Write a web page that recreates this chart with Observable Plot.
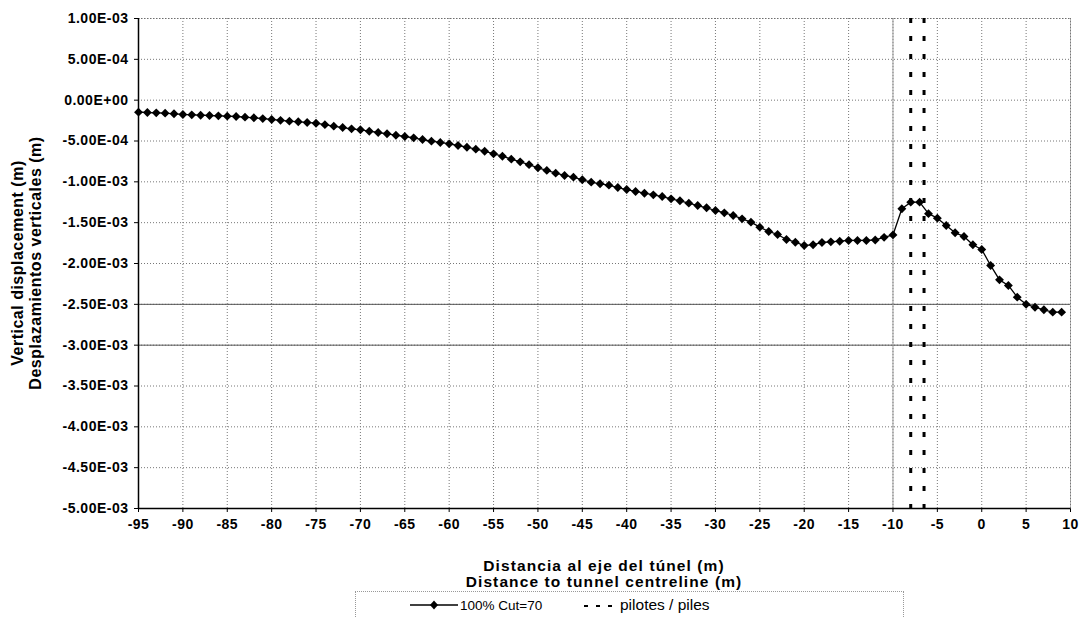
<!DOCTYPE html>
<html><head><meta charset="utf-8">
<script src="https://cdn.jsdelivr.net/npm/d3@7"></script>
<script src="https://cdn.jsdelivr.net/npm/@observablehq/plot@0.6"></script>
<style>
body{margin:0;background:#fff;font-family:"Liberation Sans",Arial,sans-serif;color:#000;}
#wrap{position:relative;width:1080px;height:617px;overflow:hidden;background:#fff;}
#chart{position:absolute;left:0;top:0;}
.ytitle{position:absolute;left:27px;top:263px;transform:translate(-50%,-50%) rotate(-90deg);font-weight:bold;font-size:16px;letter-spacing:0.5px;line-height:18px;text-align:center;white-space:nowrap;}
.xtitle{position:absolute;left:604px;top:558px;transform:translateX(-50%);font-weight:bold;font-size:15.5px;letter-spacing:1.1px;line-height:16px;text-align:center;white-space:nowrap;}
.legend{position:absolute;left:355px;top:591px;width:549px;height:40px;border:1px dotted #999;box-sizing:border-box;font-size:13px;}
.legend .it{position:absolute;top:4px;display:flex;align-items:center;height:18px;white-space:nowrap;}
</style>
</head><body>
<div id="wrap">
  <div id="chart"></div>
  <div class="ytitle">Vertical displacement (m)<br>Desplazamientos verticales (m)</div>
  <div class="xtitle">Distancia al eje del túnel (m)<br>Distance to tunnel centreline (m)</div>
  <div class="legend">
    <div class="it" style="left:54px"><svg width="48" height="12"><line x1="0" y1="6" x2="48" y2="6" stroke="#000" stroke-width="1.3"/><path d="M24,1.5 L28,6 L24,10.5 L20,6Z" fill="#000"/></svg><span style="margin-left:2px;font-size:13.5px">100% Cut=70</span></div>
    <div class="it" style="left:226px"><svg width="34" height="12"><line x1="2" y1="7" x2="34" y2="7" stroke="#000" stroke-width="2" stroke-dasharray="4,8"/></svg><span style="margin-left:4px;font-size:15.5px">pilotes / piles</span></div>
  </div>
</div>
<script>
// Distance to tunnel centreline (m)
const distance = [-95,-94,-93,-92,-91,-90,-89,-88,-87,-86,-85,-84,-83,-82,-81,-80,-79,-78,-77,-76,
  -75,-74,-73,-72,-71,-70,-69,-68,-67,-66,-65,-64,-63,-62,-61,-60,-59,-58,-57,-56,
  -55,-54,-53,-52,-51,-50,-49,-48,-47,-46,-45,-44,-43,-42,-41,-40,-39,-38,-37,-36,
  -35,-34,-33,-32,-31,-30,-29,-28,-27,-26,-25,-24,-23,-22,-21,-20,-19,-18,-17,-16,
  -15,-14,-13,-12,-11,-10,-9,-8,-7,-6,-5,-4,-3,-2,-1,0,1,2,3,4,5,6,7,8,9];
// Vertical displacement (m), series "100% Cut=70"
const displacement = [
  -1.47e-4,-1.51e-4,-1.55e-4,-1.59e-4,-1.67e-4,-1.75e-4,-1.80e-4,-1.84e-4,-1.88e-4,-1.92e-4,
  -1.96e-4,-2.00e-4,-2.08e-4,-2.16e-4,-2.26e-4,-2.36e-4,-2.47e-4,-2.57e-4,-2.65e-4,-2.73e-4,
  -2.82e-4,-3.00e-4,-3.18e-4,-3.35e-4,-3.51e-4,-3.63e-4,-3.80e-4,-3.96e-4,-4.12e-4,-4.29e-4,
  -4.45e-4,-4.61e-4,-4.82e-4,-5.02e-4,-5.18e-4,-5.35e-4,-5.55e-4,-5.76e-4,-6.00e-4,-6.25e-4,
  -6.57e-4,-6.86e-4,-7.22e-4,-7.55e-4,-7.90e-4,-8.28e-4,-8.60e-4,-8.94e-4,-9.22e-4,-9.43e-4,
  -9.75e-4,-1.004e-3,-1.024e-3,-1.041e-3,-1.070e-3,-1.094e-3,-1.118e-3,-1.139e-3,-1.159e-3,-1.180e-3,
  -1.208e-3,-1.232e-3,-1.261e-3,-1.290e-3,-1.318e-3,-1.351e-3,-1.380e-3,-1.412e-3,-1.453e-3,-1.494e-3,
  -1.555e-3,-1.608e-3,-1.645e-3,-1.706e-3,-1.739e-3,-1.780e-3,-1.770e-3,-1.743e-3,-1.735e-3,-1.727e-3,
  -1.718e-3,-1.718e-3,-1.718e-3,-1.712e-3,-1.680e-3,-1.650e-3,-1.330e-3,-1.249e-3,-1.249e-3,-1.390e-3,
  -1.445e-3,-1.535e-3,-1.624e-3,-1.669e-3,-1.771e-3,-1.828e-3,-2.024e-3,-2.200e-3,-2.269e-3,-2.412e-3,
  -2.500e-3,-2.535e-3,-2.567e-3,-2.596e-3,-2.596e-3];
// Pile positions (m), series "pilotes / piles"
const piles = [-8, -6.5];
// Axis ticks
const xTicks = [-95,-90,-85,-80,-75,-70,-65,-60,-55,-50,-45,-40,-35,-30,-25,-20,-15,-10,-5,0,5,10];
const yTicks = [1e-3,5e-4,0,-5e-4,-1e-3,-1.5e-3,-2e-3,-2.5e-3,-3e-3,-3.5e-3,-4e-3,-4.5e-3,-5e-3];
// Darker grid lines seen in the scanned original
const darkYGrid = [-2.5e-3, -3e-3];
const darkXGrid = [-10];

const data = distance.map((d, i) => ({x: d, y: displacement[i]}));
const fmtE = v => {
  const s = (Math.abs(v) < 1e-12 ? 0 : v).toExponential(2);
  const [m, e] = s.split("e");
  const n = parseInt(e, 10);
  return m + "E" + (n < 0 ? "-" : "+") + String(Math.abs(n)).padStart(2, "0");
};

const chart = Plot.plot({
  width: 1080,
  height: 540,
  marginTop: 18,
  marginBottom: 32,
  marginLeft: 138,
  marginRight: 10,
  style: {fontFamily: "'Liberation Sans', Arial, sans-serif", fontSize: "14px", fontWeight: "bold", letterSpacing: "0.5px", color: "#000", background: "#fff"},
  x: {domain: [-95, 10], ticks: xTicks, tickFormat: d => String(d), tickSize: 4, tickPadding: 7, label: null},
  y: {domain: [-5e-3, 1e-3], ticks: yTicks, tickFormat: fmtE, tickSize: 4, tickPadding: 6, label: null},
  marks: [
    Plot.ruleX(xTicks, {stroke: "#777", strokeWidth: 1, strokeDasharray: "1,2"}),
    Plot.ruleY(yTicks, {stroke: "#777", strokeWidth: 1, strokeDasharray: "1,2"}),
    Plot.ruleY(darkYGrid, {stroke: "#555", strokeWidth: 1}),
    Plot.ruleX(darkXGrid, {stroke: "#999", strokeWidth: 1}),
    Plot.frame({stroke: "#666", strokeDasharray: "1,2"}),
    Plot.ruleX([-95], {stroke: "#000", strokeWidth: 1.5}),
    Plot.ruleY([-5e-3], {stroke: "#000", strokeWidth: 1.5}),
    Plot.ruleX(piles, {stroke: "#000", strokeWidth: 3, strokeDasharray: "5,13"}),
    Plot.line(data, {x: "x", y: "y", stroke: "#000", strokeWidth: 1.3}),
    Plot.dot(data, {x: "x", y: "y", symbol: "diamond2", r: 4, fill: "#000", stroke: "none"})
  ]
});
document.getElementById("chart").appendChild(chart);
</script>
</body></html>
